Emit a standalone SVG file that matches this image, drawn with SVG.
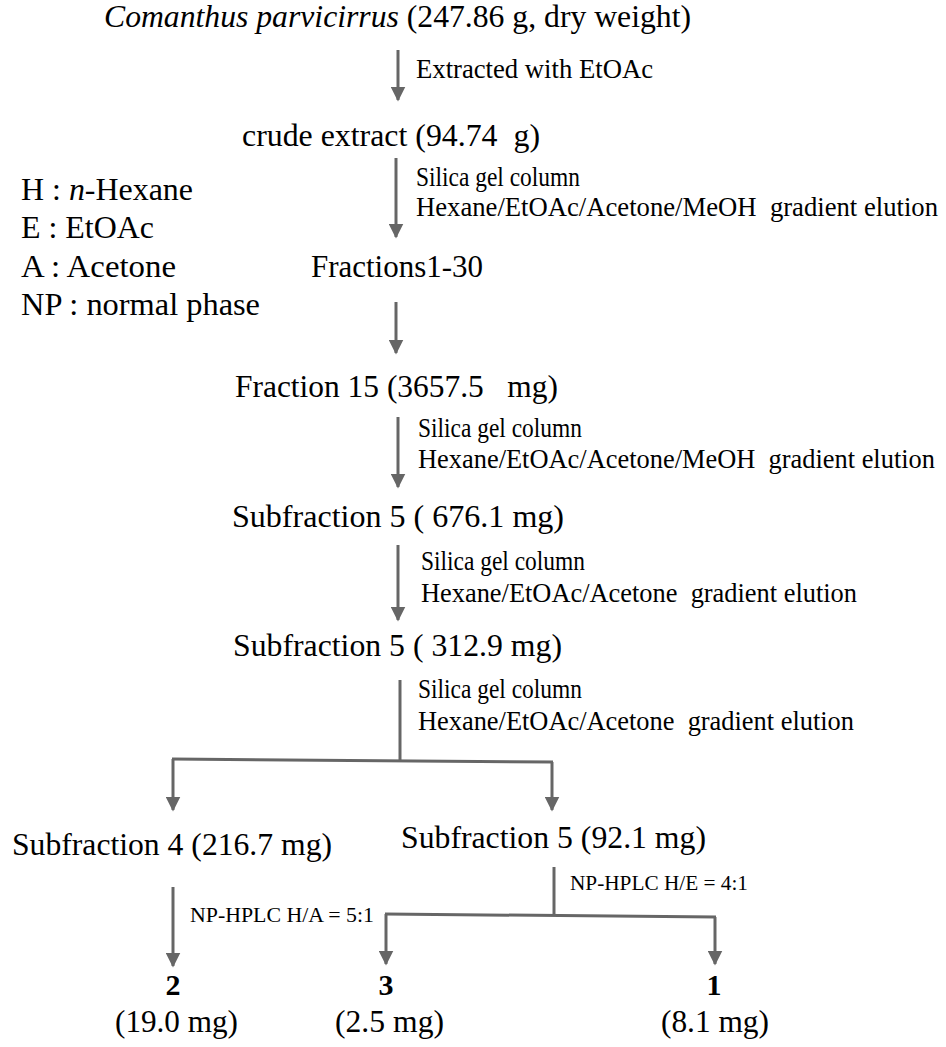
<svg xmlns="http://www.w3.org/2000/svg" width="946" height="1047" viewBox="0 0 946 1047">
<style>
text{font-family:"Liberation Serif","Times New Roman",serif;fill:#000;white-space:pre}
.n{font-size:32px}
.m{font-size:31px}
.l{font-size:26.5px}
.s{font-size:21px}
.b{font-size:30px;font-weight:bold}
.c line{stroke:#666;stroke-width:3;fill:none}
</style>
<defs>
<marker id="ah" viewBox="0 0 10 10" refX="9" refY="5" markerWidth="5" markerHeight="5" orient="auto" markerUnits="strokeWidth">
<path d="M0,0 L10,5 L0,10 z" fill="#666"/>
</marker>
</defs>
<g id="connectors" class="c">
<line x1="398" y1="50" x2="398" y2="100" marker-end="url(#ah)"/>
<line x1="396" y1="158" x2="396" y2="237" marker-end="url(#ah)"/>
<line x1="396" y1="302" x2="396" y2="353" marker-end="url(#ah)"/>
<line x1="398" y1="417" x2="398" y2="487" marker-end="url(#ah)"/>
<line x1="398" y1="545" x2="398" y2="620" marker-end="url(#ah)"/>
<line x1="400" y1="680" x2="400" y2="761"/>
<line x1="172" y1="759" x2="553" y2="762"/>
<line x1="173" y1="759" x2="173" y2="810" marker-end="url(#ah)"/>
<line x1="552" y1="762" x2="552" y2="810" marker-end="url(#ah)"/>
<line x1="554" y1="867" x2="554" y2="915"/>
<line x1="385" y1="914" x2="716" y2="917"/>
<line x1="386" y1="914" x2="386" y2="964" marker-end="url(#ah)"/>
<line x1="715" y1="917" x2="715" y2="964" marker-end="url(#ah)"/>
<line x1="173" y1="887" x2="173" y2="966" marker-end="url(#ah)"/>
</g>
<g id="start"><text class="n" x="104" y="27" textLength="587" lengthAdjust="spacingAndGlyphs"><tspan font-style="italic">Comanthus parvicirrus</tspan> (247.86 g, dry weight)</text></g>
<g id="label-extract"><text class="l" x="416" y="78" textLength="237" lengthAdjust="spacingAndGlyphs">Extracted with EtOAc</text></g>
<g id="crude"><text class="n" x="242" y="146" textLength="298" lengthAdjust="spacingAndGlyphs">crude extract (94.74  g)</text></g>
<g id="label-col1">
<text class="l" x="416" y="186" textLength="164" lengthAdjust="spacingAndGlyphs">Silica gel column</text>
<text class="l" x="416" y="216" textLength="522" lengthAdjust="spacingAndGlyphs">Hexane/EtOAc/Acetone/MeOH  gradient elution</text>
</g>
<g id="legend">
<text class="n" x="21" y="200" textLength="172" lengthAdjust="spacingAndGlyphs">H : <tspan font-style="italic">n</tspan>-Hexane</text>
<text class="n" x="21" y="238" textLength="133" lengthAdjust="spacingAndGlyphs">E : EtOAc</text>
<text class="n" x="21" y="277" textLength="155" lengthAdjust="spacingAndGlyphs">A : Acetone</text>
<text class="n" x="21" y="315" textLength="239" lengthAdjust="spacingAndGlyphs">NP : normal phase</text>
</g>
<g id="fractions"><text class="n" x="311" y="277" textLength="172" lengthAdjust="spacingAndGlyphs">Fractions1-30</text></g>
<g id="fraction15"><text class="n" x="235" y="397" textLength="323" lengthAdjust="spacingAndGlyphs">Fraction 15 (3657.5   mg)</text></g>
<g id="label-col2">
<text class="l" x="418" y="437" textLength="164" lengthAdjust="spacingAndGlyphs">Silica gel column</text>
<text class="l" x="418" y="468" textLength="517" lengthAdjust="spacingAndGlyphs">Hexane/EtOAc/Acetone/MeOH  gradient elution</text>
</g>
<g id="sub5a"><text class="n" x="232" y="527" textLength="332" lengthAdjust="spacingAndGlyphs">Subfraction 5 ( 676.1 mg)</text></g>
<g id="label-col3">
<text class="l" x="421" y="570" textLength="164" lengthAdjust="spacingAndGlyphs">Silica gel column</text>
<text class="l" x="421" y="602" textLength="436" lengthAdjust="spacingAndGlyphs">Hexane/EtOAc/Acetone  gradient elution</text>
</g>
<g id="sub5b"><text class="n" x="233" y="656" textLength="329" lengthAdjust="spacingAndGlyphs">Subfraction 5 ( 312.9 mg)</text></g>
<g id="label-col4">
<text class="l" x="418" y="698" textLength="164" lengthAdjust="spacingAndGlyphs">Silica gel column</text>
<text class="l" x="418" y="730" textLength="436" lengthAdjust="spacingAndGlyphs">Hexane/EtOAc/Acetone  gradient elution</text>
</g>
<g id="sub4"><text class="n" x="12" y="855" textLength="320" lengthAdjust="spacingAndGlyphs">Subfraction 4 (216.7 mg)</text></g>
<g id="sub5c"><text class="n" x="401" y="848" textLength="305" lengthAdjust="spacingAndGlyphs">Subfraction 5 (92.1 mg)</text></g>
<g id="label-hplc1"><text class="s" x="570" y="890" textLength="178" lengthAdjust="spacingAndGlyphs">NP-HPLC H/E = 4:1</text></g>
<g id="label-hplc2"><text class="s" x="190" y="922" textLength="184" lengthAdjust="spacingAndGlyphs">NP-HPLC H/A = 5:1</text></g>
<g id="cmp2"><text class="b" x="173" y="995" text-anchor="middle">2</text><text class="m" x="115" y="1032" textLength="123" lengthAdjust="spacingAndGlyphs">(19.0 mg)</text></g>
<g id="cmp3"><text class="b" x="386" y="995" text-anchor="middle">3</text><text class="m" x="335" y="1032" textLength="109" lengthAdjust="spacingAndGlyphs">(2.5 mg)</text></g>
<g id="cmp1"><text class="b" x="714" y="995" text-anchor="middle">1</text><text class="m" x="661" y="1032" textLength="108" lengthAdjust="spacingAndGlyphs">(8.1 mg)</text></g>
</svg>
